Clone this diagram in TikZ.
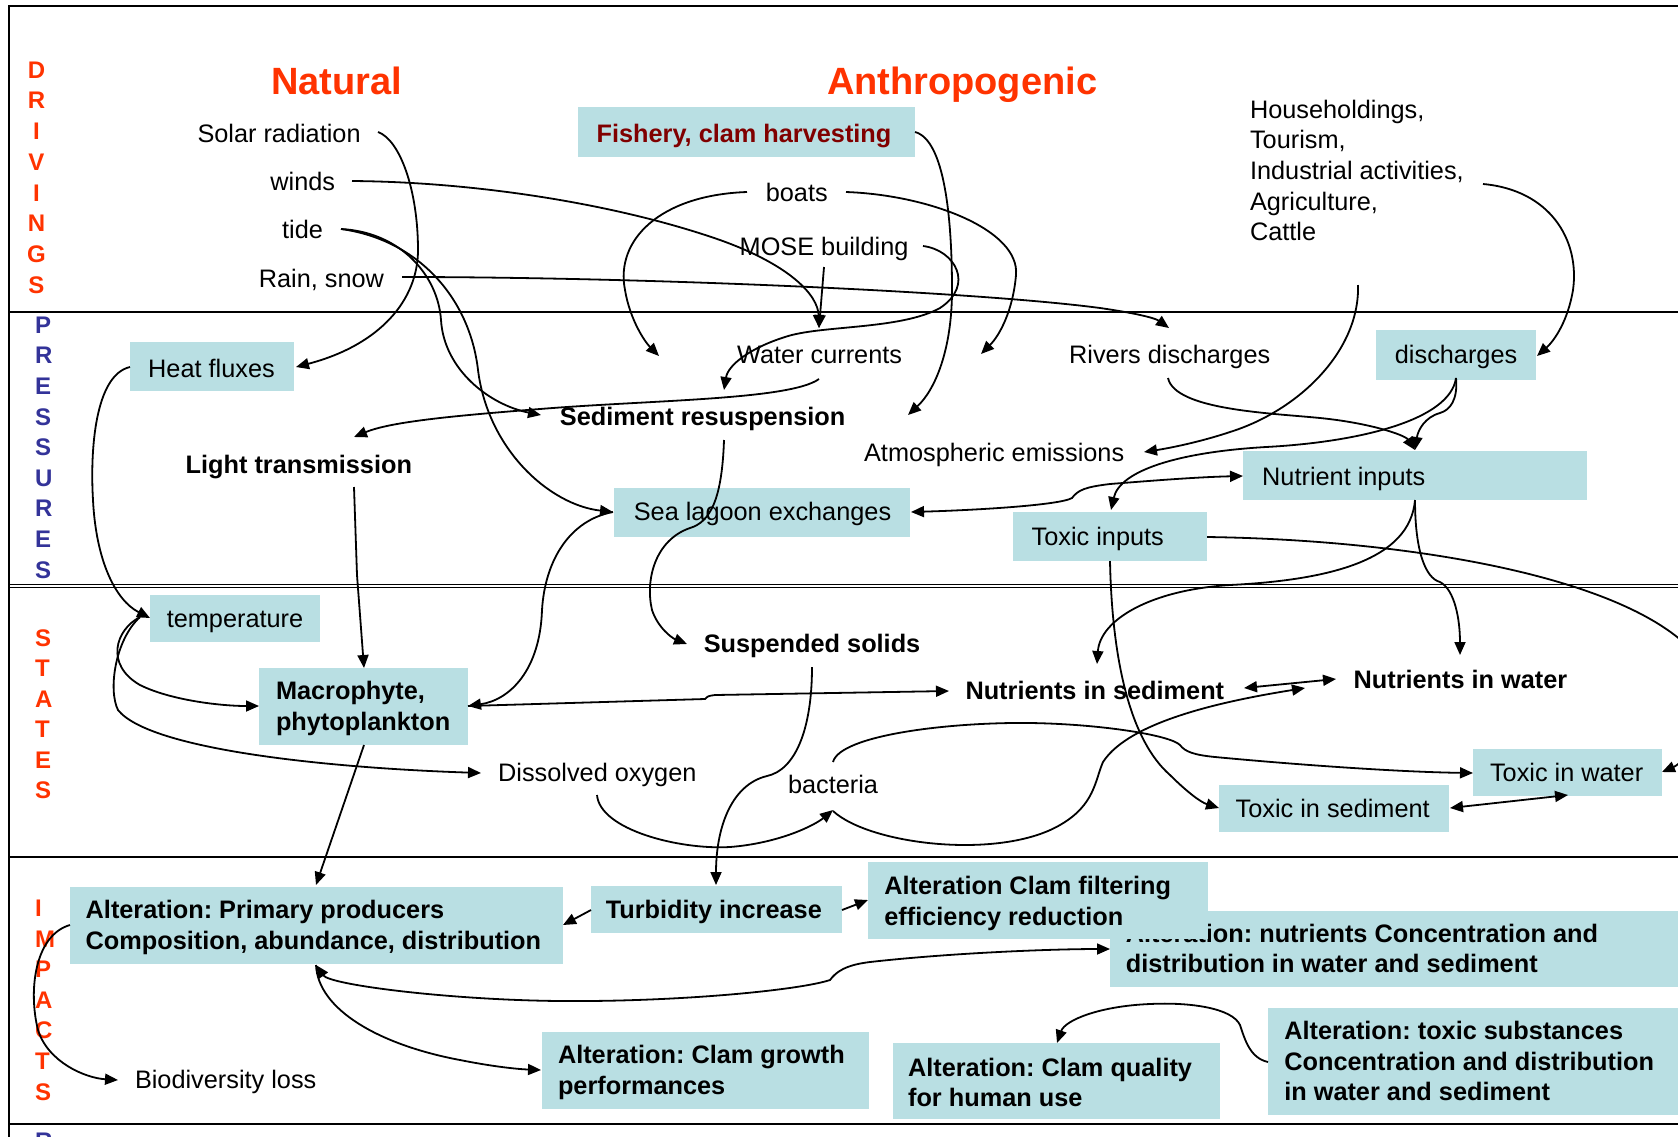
\documentclass[tikz,border=0pt]{standalone}
\usepackage{fontspec}
\setmainfont{Liberation Sans}
\usetikzlibrary{arrows.meta}
\definecolor{boxc}{RGB}{185,223,227}
\definecolor{hdr}{RGB}{255,51,0}
\definecolor{pblue}{RGB}{51,51,153}
\definecolor{fish}{RGB}{128,0,0}
\frenchspacing
\tikzset{
  box/.style={fill=boxc, draw=none, anchor=north west, inner sep=0, outer sep=0},
  t/.style={anchor=base west, inner sep=0, outer sep=0},
  tb/.style={t, font=\fontsize{25.3}{30.6}\selectfont\bfseries},
  side/.style={font=\fontsize{24}{24}\selectfont\bfseries, inner sep=0, outer sep=0},
  ln/.style={line width=1.8pt},
  ar/.style={ln, -{Triangle[length=13pt,width=11pt]}},
  dar/.style={ln, {Triangle[length=13pt,width=11pt]}-{Triangle[length=13pt,width=11pt]}},
  frame/.style={line width=1.3pt}
}
\begin{document}
\begin{tikzpicture}[x=1pt,y=-1pt,font=\fontsize{25.3}{30.6}\selectfont]
\useasboundingbox (0,0) rectangle (1678,1136);
\clip (0,0) rectangle (1678,1136);
\fill[white] (0,0) rectangle (1678,1136);

% frame
\draw[frame] (9,1140) -- (9,6) -- (1700,6);
\draw[frame] (9,312) -- (1700,312);
\draw[line width=0.9pt] (9,584.2) -- (1700,584.2);
\draw[line width=0.9pt] (9,587) -- (1700,587);
\draw[frame] (9,857) -- (1700,857);
\draw[frame] (9,1124) -- (1700,1124);

% side labels
\foreach \l [count=\i] in {D,R,I,V,I,N,G,S}
  \node[side, text=hdr] (dr\i) at (36.5,{70+30.7*(\i-1)}) {\l};
\foreach \l [count=\i] in {P,R,E,S,S,U,R,E,S}
  \node[side, text=pblue, anchor=west] (pr\i) at (35.2,{325+30.6*(\i-1)}) {\l};
\foreach \l [count=\i] in {S,T,A,T,E,S}
  \node[side, text=hdr, anchor=west] (st\i) at (35.2,{638.3+30.4*(\i-1)}) {\l};
\foreach \l [count=\i] in {I,M,P,A,C,T,S}
  \node[side, text=hdr, anchor=west] (im\i) at (35.2,{908.3+30.6*(\i-1)}) {\l};
\node[side, text=pblue, anchor=west] (re1) at (35.2,1141) {R};

% headers
\node[t, text=hdr, font=\fontsize{38}{38}\selectfont\bfseries] (natural) at (271,94) {Natural};
\node[t, text=hdr, font=\fontsize{38}{38}\selectfont\bfseries] (anthro) at (827,94) {Anthropogenic};

% boxes
\node[box, minimum width=337, minimum height=49.7] (fishbox) at (578,107) {};
\node[box, minimum width=164, minimum height=48.7] (heatbox) at (130,342) {};
\node[box, minimum width=160, minimum height=50] (discbox) at (1376,330) {};
\node[box, minimum width=344, minimum height=49] (nutinbox) at (1243,451) {};
\node[box, minimum width=194, minimum height=49] (toxinbox) at (1013,512) {};
\node[box, minimum width=296, minimum height=48.7] (seabox) at (614,488) {};
\node[box, minimum width=169.6, minimum height=47] (tempbox) at (150,595) {};
\node[box, minimum width=209, minimum height=76.7] (macbox) at (259,668) {};
\node[box, minimum width=189, minimum height=46.7] (toxwbox) at (1473,749) {};
\node[box, minimum width=230.4, minimum height=46.7] (toxsbox) at (1219,785) {};
\node[box, minimum width=493, minimum height=76.7] (ppbox) at (70,887) {};
\node[box, minimum width=251, minimum height=46.7] (turbbox) at (591,886) {};
\node[box, minimum width=600, minimum height=76.3] (nconcbox) at (1110,911) {};
\node[tb] (ncon1) at (1125.8,942.7) {Alteration: nutrients Concentration and};
\node[tb] (ncon2) at (1125.8,972.7) {distribution in water and sediment};
\node[box, minimum width=340, minimum height=76.4] (filtbox) at (868,862.3) {};
\node[box, minimum width=327, minimum height=76.7] (growbox) at (542,1032) {};
\node[box, minimum width=327, minimum height=76.3] (qualbox) at (893,1043) {};
\node[box, minimum width=450, minimum height=106.7] (toxsubbox) at (1268,1008.3) {};

% box texts
\node[tb, text=fish] (fish) at (596.6,142.5) {Fishery, clam harvesting};
\node[t] (heat) at (148.2,377.3) {Heat fluxes};
\node[t] (disc) at (1394.9,363.3) {discharges};
\node[t] (nutin) at (1262.2,485) {Nutrient inputs};
\node[t] (toxin) at (1031.7,545.7) {Toxic inputs};
\node[t] (sea) at (633.8,520.7) {Sea lagoon exchanges};
\node[t] (temp) at (166.8,627.7) {temperature};
\node[tb] (mac1) at (276,699.3) {Macrophyte,};
\node[tb] (mac2) at (276,730) {phytoplankton};
\node[t] (toxw) at (1490,781) {Toxic in water};
\node[t] (toxs) at (1235.7,817.3) {Toxic in sediment};
\node[tb] (pp1) at (85.7,918.3) {Alteration: Primary producers};
\node[tb] (pp2) at (85.7,949.3) {Composition, abundance, distribution};
\node[tb] (turb) at (605.8,918.3) {Turbidity increase};
\node[tb] (filt1) at (884.4,894.3) {Alteration Clam filtering};
\node[tb] (filt2) at (884.4,925) {efficiency reduction};
\node[tb] (grow1) at (558,1063.5) {Alteration: Clam growth};
\node[tb] (grow2) at (558,1094) {performances};
\node[tb] (qual1) at (908.1,1076.7) {Alteration: Clam quality};
\node[tb] (qual2) at (908.1,1106.7) {for human use};
\node[tb] (tsub1) at (1284.3,1039.3) {Alteration: toxic substances};
\node[tb] (tsub2) at (1284.3,1070) {Concentration and distribution};
\node[tb] (tsub3) at (1284.3,1100) {in water and sediment};

% plain texts
\node[t] (solar) at (197.5,142.7) {Solar radiation};
\node[t] (winds) at (270.4,190) {winds};
\node[t] (tide) at (282.1,238.3) {tide};
\node[t] (rain) at (258.9,287.3) {Rain, snow};
\node[t] (boats) at (765.8,201.7) {boats};
\node[t] (mose) at (739.7,255) {MOSE building};
\node[t] (hh1) at (1250,118.3) {Householdings,};
\node[t] (hh2) at (1250,148.9) {Tourism,};
\node[t] (hh3) at (1250,179.5) {Industrial activities,};
\node[t] (hh4) at (1250,210.1) {Agriculture,};
\node[t] (hh5) at (1250,240.7) {Cattle};
\node[t] (water) at (737.1,363.3) {Water currents};
\node[t] (rivers) at (1069.2,363.3) {Rivers discharges};
\node[tb] (sedres) at (559.9,425.5) {Sediment resuspension};
\node[tb] (light) at (185.7,473.3) {Light transmission};
\node[t] (atmo) at (864.1,461.7) {Atmospheric emissions};
\node[tb] (suspsol) at (703.8,652.7) {Suspended solids};
\node[tb] (nsed) at (965.5,699) {Nutrients in sediment};
\node[tb] (nwat) at (1353.6,688.3) {Nutrients in water};
\node[t] (dox) at (498.2,781) {Dissolved oxygen};
\node[t] (bact) at (788,793.3) {bacteria};
\node[t] (biod) at (135,1088.3) {Biodiversity loss};

% connectors
\draw[ar] (378,132) .. controls (400,140) and (418,190) .. (418,250) .. controls (418,300) and (380,345) .. (296,367);
\draw[ar] (352,181) .. controls (480,182) and (620,205) .. (720,240) .. controls (790,265) and (818,295) .. (819,328);
\draw[ar] (824,267) -- (819,328);
\draw[ar] (341,229) .. controls (400,232) and (438,275) .. (441,320) .. controls (444,370) and (490,405) .. (541,415);
\draw[ar] (341,229) .. controls (420,240) and (470,300) .. (478,370) .. controls (488,450) and (550,505) .. (613,512);
\draw[ar] (819,379) .. controls (790,400) and (650,400) .. (540,409) .. controls (450,416) and (390,422) .. (354,437);
\draw[ar] (923,246) .. controls (955,250) and (975,285) .. (940,308) .. controls (900,330) and (820,325) .. (785,337) .. controls (750,348) and (728,365) .. (724,390);
\draw[ar] (747,192) .. controls (660,195) and (615,240) .. (625,290) .. controls (630,320) and (645,342) .. (659,356);
\draw[ar] (846,192) .. controls (930,195) and (1020,230) .. (1016,275) .. controls (1013,310) and (1000,335) .. (981,354);
\draw[ar] (915,132) .. controls (945,140) and (952,220) .. (952,290) .. controls (952,350) and (935,390) .. (908,415);
\draw[ar] (402,277) .. controls (650,277) and (980,292) .. (1100,308) .. controls (1135,313) and (1155,318) .. (1169,328);
\draw[ar] (1483,184) .. controls (1550,190) and (1580,240) .. (1573,290) .. controls (1568,320) and (1555,340) .. (1537,356);
\draw[ar] (1358,285) .. controls (1360,350) and (1300,410) .. (1230,432) .. controls (1200,442) and (1170,448) .. (1144,452);
\draw[ar] (1168,378) .. controls (1175,410) and (1270,413) .. (1320,418) .. controls (1370,423) and (1405,435) .. (1415,450);
\draw[ar] (1456,378) .. controls (1458,400) and (1450,410) .. (1440,413) .. controls (1425,417) and (1418,430) .. (1415,450);
\draw[ar] (1456,378) .. controls (1450,420) and (1360,442) .. (1266,447) .. controls (1180,452) and (1120,470) .. (1111,510);
\draw[dar] (911,512) .. controls (980,510) and (1060,505) .. (1072,498) .. controls (1078,490) and (1085,487) .. (1110,484) .. controls (1160,480) and (1200,477) .. (1243,476);
\draw[ar] (1415,500) .. controls (1410,560) and (1330,580) .. (1230,585) .. controls (1150,590) and (1100,620) .. (1097,664);
\draw[ar] (1415,500) .. controls (1415,550) and (1425,578) .. (1440,582) .. controls (1455,590) and (1460,620) .. (1460,655);
\draw[ar] (1207,537) .. controls (1420,540) and (1640,580) .. (1700,660) .. controls (1720,700) and (1690,760) .. (1662,772);
\draw[ar] (1110,561) .. controls (1112,660) and (1130,740) .. (1170,775) .. controls (1185,790) and (1200,802) .. (1219,808);
\draw[dar] (1450,808) -- (1568,795);
\draw[dar] (1244,688) -- (1336,679);
\draw[ar] (833,811) .. controls (870,845) and (1000,860) .. (1060,825) .. controls (1095,805) and (1095,780) .. (1103,762) .. controls (1130,720) and (1230,700) .. (1305,688);
\draw[ar] (833,762) .. controls (840,735) and (950,722) .. (1030,723) .. controls (1100,724) and (1170,735) .. (1180,745) .. controls (1185,752) and (1195,755) .. (1215,757) .. controls (1300,765) and (1400,772) .. (1473,773);
\draw[ar] (597,795) .. controls (600,830) and (680,850) .. (730,847) .. controls (780,843) and (815,825) .. (833,810);
\draw[ar] (812,667) .. controls (812,730) and (795,770) .. (767,776) .. controls (730,785) and (716,830) .. (716,885);
\draw[ar] (724,440) .. controls (722,500) and (710,522) .. (690,528) .. controls (655,540) and (645,580) .. (652,610) .. controls (658,628) and (672,638) .. (687,644);
\draw[ar] (354,487) -- (357,575) -- (364,668);
\draw[ar] (130,367) .. controls (95,375) and (90,450) .. (93,500) .. controls (96,560) and (115,600) .. (150,618);
\draw[ar] (140,617) .. controls (115,630) and (105,665) .. (140,685) .. controls (170,700) and (220,706) .. (259,706);
\draw[ar] (140,617) .. controls (115,640) and (108,690) .. (118,710) .. controls (150,750) and (330,768) .. (481,773);
\draw[ar] (613,512) .. controls (570,520) and (545,560) .. (542,610) .. controls (540,670) and (510,700) .. (468,706);
\draw[ar] (468,706) -- (705,699) .. controls (708,696) .. (715,695) -- (949,691);
\draw[ar] (364,745) -- (316,885);
\draw[ar] (591,910) -- (563,925);
\draw[ar] (842,910) -- (868,900);
\draw[dar] (316,965) .. controls (330,985) and (450,1000) .. (560,1001) .. controls (680,1002) and (800,990) .. (830,980) .. controls (836,972) and (845,965) .. (870,962) .. controls (950,953) and (1050,949) .. (1110,949);
\draw[ar] (316,965) .. controls (318,1010) and (380,1045) .. (460,1060) .. controls (490,1066) and (515,1069) .. (541,1070);
\draw[ar] (70,925) .. controls (35,935) and (28,990) .. (38,1030) .. controls (48,1062) and (85,1078) .. (118,1080);
\draw[ar] (1268,1062) .. controls (1250,1058) and (1245,1040) .. (1240,1025) .. controls (1232,1008) and (1190,1002) .. (1150,1004) .. controls (1100,1006) and (1065,1020) .. (1057,1043);
\end{tikzpicture}
\end{document}
